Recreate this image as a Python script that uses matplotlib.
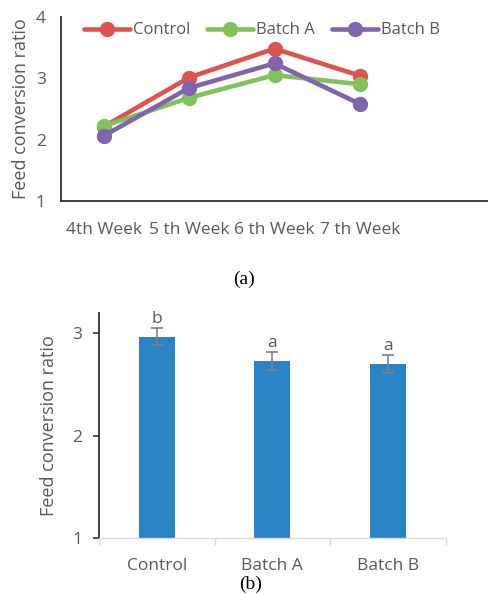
import matplotlib.pyplot as plt

# data
weeks = ['4th Week', '5 th Week', '6 th Week', '7 th Week']
control = [2.21, 3.01, 3.48, 3.04]
batch_a = [2.22, 2.68, 3.05, 2.90]
batch_b = [2.06, 2.84, 3.24, 2.58]

groups = ['Control', 'Batch A', 'Batch B']
fcr_mean = [2.97, 2.73, 2.70]
fcr_err = [0.085, 0.085, 0.085]
letters = ['b', 'a', 'a']

plt.rcParams['font.family'] = ['Open Sans', 'DejaVu Sans']
gray = '#595959'

fig = plt.figure(figsize=(4.88, 5.94), dpi=100)
W, H = 488, 594

# ---- (a) line chart ----
ax1 = fig.add_axes([61 / W, 1 - 201 / H, (488 - 61) / W, (201 - 16.7) / H])
cols = ['#E0524F', '#83C25A', '#8064AE']
for vals, lab, c in zip([control, batch_a, batch_b], groups, cols):
    ax1.plot(range(len(weeks)), vals, color=c, lw=3.3, marker='o', ms=10, label=lab,
             solid_capstyle='round')
ax1.set_xlim(-0.5, 4.5)
ax1.set_ylim(1, 4)
ax1.set_yticks([1, 2, 3, 4])
ax1.set_xticks(range(len(weeks)))
ax1.set_xticklabels(weeks)
ax1.tick_params(axis='both', length=0, labelsize=12.5, labelcolor=gray)
ax1.tick_params(axis='x', pad=15)
ax1.tick_params(axis='y', pad=11)
for s in ['top', 'right']:
    ax1.spines[s].set_visible(False)
for s in ['left', 'bottom']:
    ax1.spines[s].set_color('#333333')
    ax1.spines[s].set_linewidth(1.3)
ax1.set_ylabel('Feed conversion ratio', fontsize=13, color=gray, labelpad=4)
ax1.legend(loc='upper left', bbox_to_anchor=(0.019, 1.05), ncol=3, frameon=False,
           fontsize=12, labelcolor=gray, handlelength=2.75, handletextpad=0.2,
           columnspacing=1.0)
fig.text(244 / W, 1 - 279 / H, '(a)', ha='center', va='center',
         fontsize=14, family='Liberation Serif')

# ---- (b) bar chart ----
ax2 = fig.add_axes([99 / W, 1 - 538.3 / H, (445.7 - 99) / W, (538.3 - 313) / H])
x = range(len(groups))
ax2.bar(x, fcr_mean, width=0.31, color='#2A83C4', bottom=0)
ax2.errorbar(x, fcr_mean, yerr=fcr_err, fmt='none', ecolor='#808080',
             elinewidth=1.2, capsize=4, capthick=1.2)
for i, (m, e, t) in enumerate(zip(fcr_mean, fcr_err, letters)):
    ax2.text(i, m + e + 0.01, t, ha='center', va='bottom', fontsize=12.5, color=gray)
ax2.set_xlim(-0.5, 2.5)
ax2.set_ylim(1, 3.2)
ax2.set_yticks([1, 2, 3])
ax2.set_xticks(x)
ax2.set_xticklabels(groups)
ax2.set_xticks([-0.5, 0.5, 1.5, 2.5], minor=True)
ax2.tick_params(axis='x', which='major', length=0, labelsize=12.5, labelcolor=gray, pad=14)
ax2.tick_params(axis='x', which='minor', length=5, color='#D9D9D9', width=1)
ax2.tick_params(axis='y', length=4, color='#333333', width=1.2, labelsize=12.5,
                labelcolor=gray, pad=8)
for s in ['top', 'right']:
    ax2.spines[s].set_visible(False)
ax2.spines['left'].set_color('#333333')
ax2.spines['left'].set_linewidth(1.3)
ax2.spines['bottom'].set_color('#D9D9D9')
ax2.spines['bottom'].set_linewidth(1)
ax2.set_ylabel('Feed conversion ratio', fontsize=13, color=gray, labelpad=10)
fig.text(251 / W, 1 - 584 / H, '(b)', ha='center', va='center',
         fontsize=14, family='Liberation Serif')

fig.savefig('out.png', dpi=100)
